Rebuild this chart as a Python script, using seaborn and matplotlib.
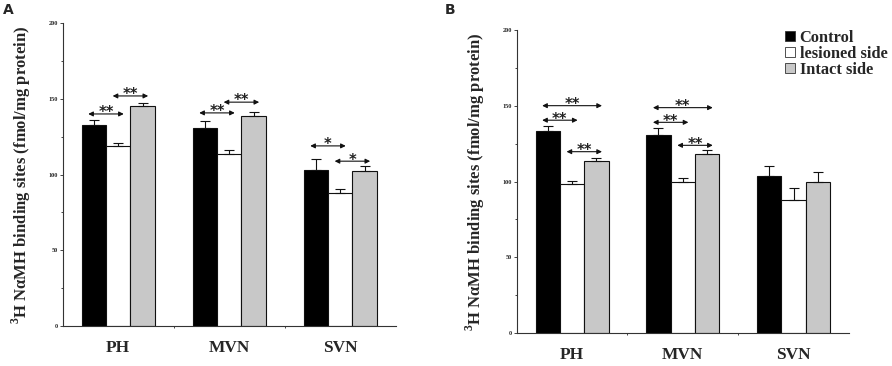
import matplotlib
matplotlib.use("Agg")
import matplotlib.pyplot as plt
import seaborn as sns
import pandas as pd
import numpy as np
from matplotlib.ticker import MultipleLocator
from matplotlib.container import BarContainer

sns.set_style("ticks")
plt.rcParams['font.family'] = ['Liberation Serif', 'DejaVu Serif']
plt.rcParams['mathtext.fontset'] = 'custom'
plt.rcParams['mathtext.rm'] = 'Liberation Serif:bold'
plt.rcParams['mathtext.bf'] = 'Liberation Serif:bold'

# ---------------- data ----------------
regions = ["PH", "MVN", "SVN"]
groups = ["Control", "lesioned side", "Intact side"]

# Panel A
a_control = [133.1, 130.9, 103.4]
a_control_err = [3.3, 4.6, 6.8]
a_lesioned = [118.8, 113.5, 87.6]
a_lesioned_err = [2.2, 2.5, 2.6]
a_intact = [145.2, 138.8, 102.1]
a_intact_err = [2.4, 2.7, 3.7]

# Panel B
b_control = [133.3, 131.1, 103.6]
b_control_err = [3.3, 4.6, 7.0]
b_lesioned = [98.5, 100.0, 87.9]
b_lesioned_err = [2.2, 2.6, 7.7]
b_intact = [113.7, 118.1, 100.0]
b_intact_err = [1.8, 2.9, 6.4]

# significance comparisons: (region index, group from, group to, y level, label)
a_sig = [(0, 0, 1, 140.1, "**"), (0, 1, 2, 152.0, "**"),
         (1, 0, 1, 140.8, "**"), (1, 1, 2, 147.9, "**"),
         (2, 0, 1, 119.0, "*"), (2, 1, 2, 108.9, "*")]
b_sig = [(0, 0, 2, 150.2, "**"), (0, 0, 1, 140.6, "**"), (0, 1, 2, 119.8, "**"),
         (1, 0, 2, 148.9, "**"), (1, 0, 1, 139.2, "**"), (1, 1, 2, 124.0, "**")]

colors = ["#000000", "#ffffff", "#c8c8c8"]

W, H = 892, 366
fig = plt.figure(figsize=(W / 100, H / 100), dpi=100)
axA = fig.add_axes([62.7 / W, 1 - 326 / H, 333 / W, 302.7 / H])
axB = fig.add_axes([516.7 / W, 1 - 333 / H, 332.3 / W, 302.7 / H])


def make_df(c, l, i):
    rows = []
    for vals, g in zip([c, l, i], groups):
        for r, v in zip(regions, vals):
            rows.append({"region": r, "group": g, "value": v})
    return pd.DataFrame(rows)


def draw(ax, c, ce, l, le, i, ie, sig, legend):
    df = make_df(c, l, i)
    sns.barplot(data=df, x="region", y="value", hue="group", order=regions,
                hue_order=groups, palette=colors, width=0.66, errorbar=None,
                edgecolor="#111111", linewidth=0.8, ax=ax, legend=legend,
                saturation=1)
    errs = [ce, le, ie]
    centers = {}
    bar_conts = [cn for cn in ax.containers if isinstance(cn, BarContainer)]
    for gi, cont in enumerate(bar_conts):
        for ri, bar in enumerate(cont.patches):
            x = bar.get_x() + bar.get_width() / 2
            h = bar.get_height()
            centers[(ri, gi)] = x
            ax.errorbar([x], [h], yerr=[[0], [errs[gi][ri]]], fmt="none",
                        ecolor="#111111", elinewidth=0.8, capsize=3.5,
                        capthick=0.8, zorder=5)
    for ri, g0, g1, y, lab in sig:
        x0 = centers[(ri, g0)] - 0.05
        x1 = centers[(ri, g1)] + 0.05
        ax.annotate("", xy=(x1, y), xytext=(x0, y),
                    arrowprops=dict(arrowstyle="<|-|>", color="#111111",
                                    lw=0.8, mutation_scale=7,
                                    shrinkA=0, shrinkB=0))
        ax.text((x0 + x1) / 2, y - 2.2, lab, ha="center", va="baseline",
                fontsize=10.5, fontweight="bold", family="DejaVu Sans",
                color="#222222")
    ax.set_ylim(0, 200)
    ax.set_xlim(-0.5, 2.5)
    ax.set_yticks([0, 50, 100, 150, 200])
    ax.yaxis.set_minor_locator(MultipleLocator(25))
    ax.set_xticks([0, 1, 2])
    ax.set_xticks([0.5, 1.5], minor=True)
    ax.set_xticklabels(regions, fontsize=12.5, fontweight="bold")
    for t in ax.get_yticklabels():
        t.set_fontsize(4.5)
        t.set_fontweight("bold")
    ax.tick_params(axis="y", which="major", length=2.5, width=0.6, pad=1)
    ax.tick_params(axis="y", which="minor", length=1.5, width=0.6)
    ax.tick_params(axis="x", which="major", length=0, pad=10)
    ax.tick_params(axis="x", which="minor", length=1.5, width=0.6)
    ax.set_xlabel("")
    ax.set_ylabel(r"$^{3}$H NαMH binding sites (fmol/mg protein)", fontsize=12,
                  fontweight="bold", labelpad=11)
    sns.despine(ax=ax)
    for s in ["left", "bottom"]:
        ax.spines[s].set_linewidth(0.8)
        ax.spines[s].set_color("#333333")


draw(axA, a_control, a_control_err, a_lesioned, a_lesioned_err,
     a_intact, a_intact_err, a_sig, False)
draw(axB, b_control, b_control_err, b_lesioned, b_lesioned_err,
     b_intact, b_intact_err, b_sig, True)

leg = axB.legend(loc="upper left", bbox_to_anchor=(785 / W, 1 - 30 / H),
                 bbox_transform=fig.transFigure, frameon=False,
                 handlelength=0.6, handleheight=0.6, handletextpad=0.3,
                 labelspacing=0.0, borderpad=0, borderaxespad=0,
                 prop={"family": "Liberation Serif", "weight": "bold", "size": 11.8})
for hnd in leg.legend_handles:
    hnd.set_edgecolor("#333333")
    hnd.set_linewidth(0.6)

fig.text(8 / W, 1 - 10 / H, "A", fontsize=10, fontweight="bold",
         family="DejaVu Sans", ha="center", va="center")
fig.text(450 / W, 1 - 10 / H, "B", fontsize=10, fontweight="bold",
         family="DejaVu Sans", ha="center", va="center")

fig.savefig("out.png", dpi=100)
